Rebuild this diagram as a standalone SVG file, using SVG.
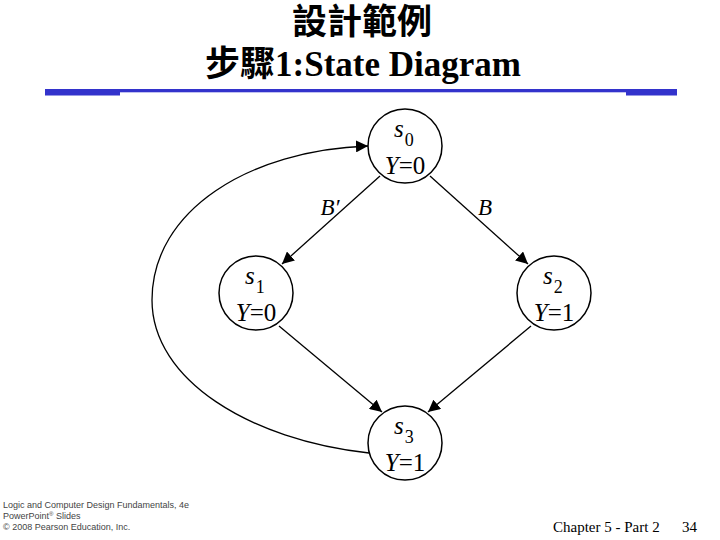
<svg xmlns="http://www.w3.org/2000/svg" width="720" height="540" viewBox="0 0 720 540">
<style>
.title{font-family:"Liberation Serif","Noto Sans CJK TC",serif;font-weight:bold;fill:#000}
.st{fill:#fff;stroke:#000;stroke-width:1.5}
.lbl{font-family:"Liberation Serif",serif;font-size:25px;fill:#000}
.it{font-style:italic}
.sub{font-size:18px}
.el{font-family:"Liberation Serif",serif;font-size:23px;fill:#000;font-style:italic}
.edge{fill:none;stroke:#000;stroke-width:1.3}
.foot{font-family:"Liberation Sans",sans-serif;font-size:9px;fill:#444}
.foot2{font-family:"Liberation Serif",serif;font-size:15px;fill:#000}
</style>
<defs>
<marker id="ah" viewBox="0 0 10 10" refX="10" refY="5" markerWidth="12" markerHeight="12" markerUnits="userSpaceOnUse" orient="auto">
<path d="M0,0 L10,5 L0,10 Z" fill="#000"/>
</marker>
</defs>
<rect width="720" height="540" fill="#fff"/>
<g id="title">
<text class="title" x="362" y="34" text-anchor="middle" font-size="35">設計範例</text>
<text class="title" x="363" y="76" text-anchor="middle" font-size="35">步驟1:State Diagram</text>
</g>
<g id="rule">
<rect x="45" y="89" width="632" height="3.3" fill="#3333CC"/>
<rect x="45" y="89" width="75" height="6.5" fill="#3333CC"/>
<rect x="626" y="89" width="51" height="6.5" fill="#3333CC"/>
</g>
<g id="connectors">
<path class="edge" d="M380,176 L282,264" marker-end="url(#ah)"/>
<path class="edge" d="M430,176 L528,264" marker-end="url(#ah)"/>
<path class="edge" d="M279,326 L382,412" marker-end="url(#ah)"/>
<path class="edge" d="M531,326 L428,412" marker-end="url(#ah)"/>
<path class="edge" d="M369,453 C250,440 152,380 152,300 C152,210 250,150 368,146" marker-end="url(#ah)"/>
<text class="el" x="330" y="215" text-anchor="middle">B′</text>
<text class="el" x="485" y="215" text-anchor="middle">B</text>
</g>
<g id="s0">
<circle class="st" cx="405" cy="146" r="37"/>
<text class="lbl" x="394" y="137"><tspan class="it">s</tspan><tspan class="sub" dx="1" dy="9">0</tspan></text>
<text class="lbl" x="405" y="174" text-anchor="middle"><tspan class="it">Y</tspan>=0</text>
</g>
<g id="s1">
<circle class="st" cx="256" cy="293" r="37"/>
<text class="lbl" x="245" y="284"><tspan class="it">s</tspan><tspan class="sub" dx="1" dy="9">1</tspan></text>
<text class="lbl" x="256" y="321" text-anchor="middle"><tspan class="it">Y</tspan>=0</text>
</g>
<g id="s2">
<circle class="st" cx="554" cy="293" r="37"/>
<text class="lbl" x="543" y="284"><tspan class="it">s</tspan><tspan class="sub" dx="1" dy="9">2</tspan></text>
<text class="lbl" x="554" y="321" text-anchor="middle"><tspan class="it">Y</tspan>=1</text>
</g>
<g id="s3">
<circle class="st" cx="405" cy="443" r="37"/>
<text class="lbl" x="394" y="434"><tspan class="it">s</tspan><tspan class="sub" dx="1" dy="9">3</tspan></text>
<text class="lbl" x="405" y="471" text-anchor="middle"><tspan class="it">Y</tspan>=1</text>
</g>
<g id="footer">
<text class="foot" x="3" y="508">Logic and Computer Design Fundamentals, 4e</text>
<text class="foot" x="3" y="519">PowerPoint<tspan font-size="6" dy="-3">®</tspan><tspan dy="3"> Slides</tspan></text>
<text class="foot" x="3" y="530">© 2008 Pearson Education, Inc.</text>
<text class="foot2" x="553" y="532">Chapter 5 - Part 2</text>
<text class="foot2" x="682" y="532">34</text>
</g>
</svg>
